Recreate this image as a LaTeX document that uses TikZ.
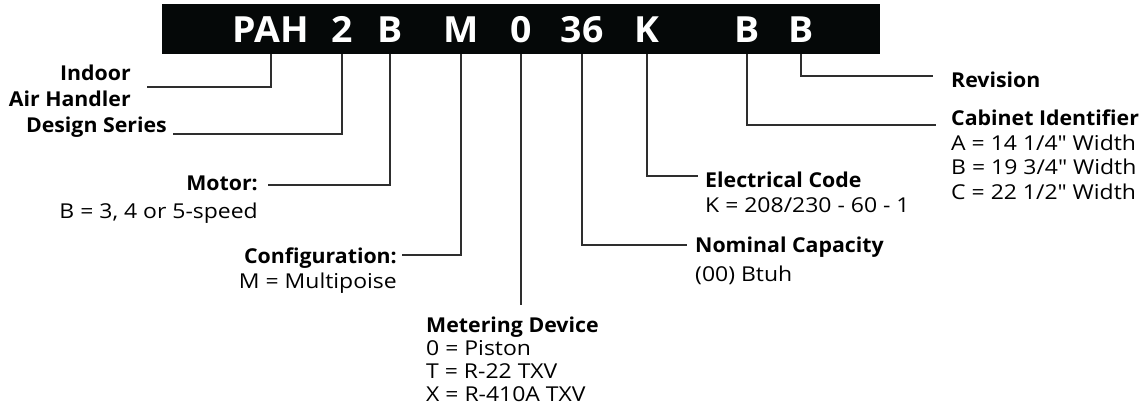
\documentclass[tikz,border=0pt]{standalone}
\usepackage{fontspec}
\setmainfont{Open Sans}[UprightFeatures={FakeStretch=1.12},
  BoldFeatures={FakeStretch=1.04}]
\usepackage{xcolor}
\usetikzlibrary{positioning}
\definecolor{plateblack}{HTML}{050808}
\definecolor{leadergray}{HTML}{2E2E2E}
\tikzset{
  code/.style={text=white, font=\fontsize{36}{36}\selectfont\bfseries,
    inner sep=0pt, anchor=base},
  leader/.style={draw=leadergray, line width=1.4pt},
  lbl/.style={inner sep=0pt, font=\fontsize{20.5}{24.5}\selectfont},
  lbl-left/.style={lbl, anchor=north west, align=left},
  lbl-right/.style={lbl, anchor=north east, align=right},
}

\begin{document}
\begin{tikzpicture}[x=1pt, y=-1pt]
\useasboundingbox (0,0) rectangle (1147,408);

\node (banner) [fill=plateblack, inner sep=0pt, anchor=north west,
    minimum width=718pt, minimum height=50pt] at (162,4) {};

\node (code-pah) [code] at (271,42) {PAH};
\node (code-2)   [code] at (342,42) {2};
\node (code-b)   [code] at (390,42) {B};
\node (code-m)   [code] at (461,42) {M};
\node (code-0)   [code] at (521,42) {0};
\node (code-36)  [code] at (582,42) {36};
\node (code-k)   [code] at (647,42) {K};
\node (code-cab) [code] at (747,42) {B};
\node (code-rev) [code] at (801,42) {B};

\node (indoor) [lbl-right, font=\fontsize{20.5}{26}\selectfont\bfseries] at (131,65)
    {Indoor\\Air Handler};
\node (design) [lbl-right, font=\fontsize{20.5}{24.5}\selectfont\bfseries] at (167,117)
    {Design Series};
\node (motor) [lbl-right] at (258,176)
    {\textbf{Motor:}\\[3.5pt]B = 3, 4 or 5-speed};
\node (config) [lbl-right] at (397,248)
    {\textbf{Configuration:}\\[0.5pt]M = Multipoise};
\node (metering) [lbl-left, font=\fontsize{20.5}{23}\selectfont] at (426,317)
    {\textbf{Metering Device}\\0 = Piston\\T = R-22 TXV\\X = R-410A TXV};
\node (capacity) [lbl-left] at (695,237)
    {\textbf{Nominal Capacity}\\[4.5pt](00) Btuh};
\node (electrical) [lbl-left] at (705,172)
    {\textbf{Electrical Code}\\[0.5pt]K = 208/230 - 60 - 1};
\node (cabinet) [lbl-left] at (951,110)
    {\textbf{Cabinet Identifier}\\A = 14 1/4″ Width\\B = 19 3/4″ Width\\C = 22 1/2″ Width};
\node (revision) [lbl-left, font=\fontsize{20.5}{24.5}\selectfont\bfseries] at (951,72)
    {Revision};

\coordinate (indoor-end) at (147,87);
\coordinate (design-end) at (173,134);
\coordinate (motor-end) at (268,185);
\coordinate (config-end) at (402,255);
\coordinate (metering-end) at (521,305);
\coordinate (capacity-end) at (687,245);
\coordinate (electrical-end) at (698,176);
\coordinate (cabinet-end) at (936,125);
\coordinate (revision-end) at (933,76);

\draw[leader] (code-pah |- banner.south) |- (indoor-end);
\draw[leader] (code-2 |- banner.south) |- (design-end);
\draw[leader] (code-b |- banner.south) |- (motor-end);
\draw[leader] (code-m |- banner.south) |- (config-end);
\draw[leader] (code-0 |- banner.south) -- (metering-end);
\draw[leader] (code-36 |- banner.south) |- (capacity-end);
\draw[leader] (code-k |- banner.south) |- (electrical-end);
\draw[leader] (code-cab |- banner.south) |- (cabinet-end);
\draw[leader] (code-rev |- banner.south) |- (revision-end);
\end{tikzpicture}
\end{document}
